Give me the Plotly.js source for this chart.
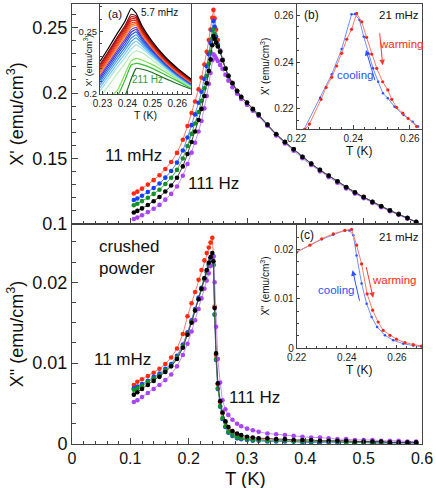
<!DOCTYPE html>
<html><head><meta charset="utf-8">
<script src="https://cdn.plot.ly/plotly-3.0.1.min.js"></script>
<style>html,body{margin:0;padding:0;background:#fff}#chart{width:436px;height:488px}</style>
</head><body><div id="chart"></div>
<script>
// ---------- main panels: shared temperature grid (K) ----------
const T = [0.106,0.112,0.12,0.13,0.14,0.15,0.16,0.17,0.18,0.19,0.198,0.205,0.211,0.217,0.222,0.227,0.231,0.2345,0.2375,0.2405,0.2425,0.2445,0.247,0.25,0.254,0.258,0.263,0.268,0.275,0.283,0.29,0.3,0.31,0.32,0.335,0.35,0.365,0.38,0.395,0.41,0.425,0.44,0.455,0.47,0.485,0.5,0.515,0.53,0.545,0.56,0.575,0.59];

// X' (emu/cm3)
const chi1_11mHz = [0.1233,0.1247,0.127,0.1301,0.1335,0.1372,0.142,0.1474,0.1543,0.1643,0.1748,0.1848,0.1935,0.2029,0.2118,0.2218,0.2315,0.2405,0.2485,0.2575,0.2635,
 0.257,0.2485,0.2405,0.2325,0.2255,0.219,0.2133,0.2078,0.2018,0.1972,0.1927,0.1879,0.1837,0.176,0.1687,0.1627,0.1572,0.1514,0.1462,0.1414,0.137,0.1327,0.1282,0.1242,0.1207,0.117,0.1137,0.1105,0.1077,0.1047,0.1017];
const chi1_blue = [0.1183,0.1195,0.1216,0.1244,0.1275,0.1309,0.1354,0.1405,0.1469,0.1561,0.166,0.1755,0.1837,0.1926,0.201,0.2108,0.2205,0.2297,0.2382,0.248,0.255,
 0.2505,0.243,0.237,0.232,0.2252,0.2187,0.2131,0.2076,0.2016,0.1971,0.1926,0.1878,0.1836,0.1759,0.1686,0.1626,0.1571,0.1513,0.1461,0.1413,0.1369,0.1326,0.1281,0.1241,0.1206,0.1169,0.1136,0.1104,0.1076,0.1046,0.1016];
const chi1_green = [0.1143,0.1155,0.1175,0.1201,0.123,0.1262,0.1305,0.1353,0.1413,0.15,0.1596,0.1688,0.1768,0.1855,0.194,0.2037,0.2132,0.2224,0.2313,0.2415,0.2485,
 0.245,0.2405,0.236,0.2315,0.2251,0.2186,0.2131,0.2075,0.2015,0.197,0.1925,0.1877,0.1835,0.1758,0.1685,0.1625,0.157,0.1512,0.146,0.1412,0.1368,0.1325,0.128,0.124,0.1205,0.1168,0.1135,0.1103,0.1075,0.1045,0.1015];
const chi1_black = [0.1088,0.11,0.1119,0.1145,0.1174,0.1206,0.1248,0.1294,0.1353,0.144,0.1535,0.1626,0.1706,0.1794,0.1879,0.1977,0.2075,0.2169,0.2257,0.2365,0.2435,
 0.2415,0.2385,0.2355,0.2315,0.225,0.2185,0.213,0.2075,0.2015,0.197,0.1925,0.1877,0.1835,0.1758,0.1685,0.1625,0.157,0.1512,0.146,0.1412,0.1368,0.1325,0.128,0.124,0.1205,0.1168,0.1135,0.1103,0.1075,0.1045,0.1015];
const chi1_111Hz = [0.1038,0.1049,0.1067,0.1091,0.1117,0.1146,0.1186,0.123,0.1286,0.1368,0.1458,0.1545,0.1621,0.1706,0.1787,0.1883,0.1978,0.207,0.2153,0.225,0.2295,
 0.2285,0.2265,0.2245,0.2215,0.2185,0.214,0.2095,0.2045,0.1995,0.1955,0.191,0.1865,0.1825,0.175,0.1675,0.1615,0.156,0.1502,0.145,0.1402,0.1358,0.1315,0.1272,0.1232,0.1197,0.116,0.1128,0.1097,0.107,0.104,0.1012];

// X'' (emu/cm3)
const chi2_11mHz = [0.0073,0.0077,0.008,0.0084,0.0088,0.0093,0.0099,0.0107,0.0118,0.0136,0.0158,0.0174,0.0188,0.0203,0.0215,0.0227,0.0236,0.0243,0.0249,0.0255,
 0.0232,0.017,0.011,0.0074,0.0052,0.0038,0.0027,0.002,0.0015,0.0011,0.0009,0.0007,0.0006,0.0006,0.0005,0.0005,0.0004,0.0004,0.0004,0.0003,0.0003,0.0003,0.0003,0.0003,0.0002,0.0002,0.0002,0.0002,0.0002,0.0002,0.0002,0.0002];
const chi2_blue = [0.0069,0.0071,0.0074,0.0078,0.0083,0.0087,0.0093,0.0099,0.0109,0.0123,0.0138,0.0153,0.0167,0.0181,0.0193,0.0205,0.0214,0.0222,0.0229,0.0233,
 0.0222,0.016,0.0104,0.0068,0.0046,0.0031,0.0021,0.0014,0.001,0.0007,0.0006,0.0005,0.0004,0.0004,0.0003,0.0003,0.0003,0.0003,0.0002,0.0002,0.0002,0.0002,0.0002,0.0002,0.0002,0.0002,0.0001,0.0001,0.0001,0.0001,0.0001,0.0001];
const chi2_green = [0.0067,0.0069,0.0072,0.0077,0.0081,0.0085,0.0091,0.0097,0.0107,0.0121,0.0136,0.0151,0.0165,0.0179,0.0191,0.0203,0.0212,0.022,0.0227,0.0231,
 0.0221,0.016,0.0105,0.0069,0.0047,0.0032,0.0022,0.0015,0.0011,0.0008,0.0007,0.0006,0.0005,0.0005,0.0004,0.0004,0.0004,0.0003,0.0003,0.0003,0.0003,0.0003,0.0003,0.0002,0.0002,0.0002,0.0002,0.0002,0.0002,0.0002,0.0002,0.0002];
const chi2_black = [0.0061,0.0064,0.0068,0.0073,0.0078,0.0083,0.0089,0.0096,0.0105,0.0119,0.0135,0.015,0.0165,0.0179,0.0192,0.0205,0.0215,0.0224,0.0231,0.0236,
 0.0226,0.0168,0.0112,0.0075,0.0053,0.0039,0.0028,0.0021,0.0016,0.0013,0.0011,0.0009,0.0008,0.0007,0.0007,0.0006,0.0006,0.0005,0.0005,0.0005,0.0004,0.0004,0.0004,0.0004,0.0003,0.0003,0.0003,0.0003,0.0002,0.0002,0.0002,0.0002];
const chi2_111Hz = [0.0052,0.0054,0.0058,0.0063,0.0068,0.0073,0.0079,0.0086,0.0096,0.011,0.0124,0.0139,0.0153,0.0167,0.018,0.0192,0.0202,0.0211,0.022,0.0228,
 0.0232,0.02,0.0145,0.0105,0.0076,0.0054,0.0043,0.0036,0.003,0.0025,0.0022,0.0019,0.0017,0.0015,0.0013,0.0012,0.0011,0.001,0.0009,0.0008,0.0008,0.0007,0.0006,0.0006,0.0005,0.0005,0.0005,0.0004,0.0004,0.0004,0.0003,0.0003];

// ---------- inset (a): X' near the peak, 5.7 mHz ... 211 Hz ----------
const Ta = [0.229,0.232,0.236,0.239,0.2415,0.2435,0.246,0.25,0.255,0.26,0.2655];
const a01_5p7mHz = [0.2261,0.2354,0.2487,0.258,0.2686,0.2646,0.254,0.242,0.23,0.2207,0.212];
const a02 = [0.2238,0.2328,0.2455,0.2545,0.2638,0.2625,0.2525,0.2408,0.2291,0.2199,0.2113];
const a03 = [0.2226,0.2316,0.2442,0.253,0.2618,0.2612,0.2515,0.2401,0.2285,0.2194,0.2109];
const a04 = [0.2213,0.2303,0.2428,0.2516,0.2601,0.26,0.2505,0.2394,0.228,0.2189,0.2105];
const a05 = [0.22,0.229,0.2414,0.2501,0.2585,0.2588,0.2495,0.2387,0.2274,0.2184,0.2101];
const a06 = [0.2187,0.2277,0.24,0.2486,0.2568,0.2575,0.2486,0.2379,0.2268,0.2179,0.2097];
const a07 = [0.2174,0.2264,0.2386,0.2471,0.2552,0.2562,0.2476,0.2372,0.2263,0.2174,0.2093];
const a08 = [0.2161,0.2251,0.2372,0.2456,0.2536,0.255,0.2467,0.2365,0.2258,0.217,0.209];
const a09 = [0.2145,0.2235,0.2354,0.2437,0.2515,0.2533,0.2456,0.2358,0.2253,0.2166,0.2087];
const a10 = [0.213,0.2218,0.2336,0.2418,0.2494,0.2516,0.2444,0.235,0.2247,0.2161,0.2083];
const a11 = [0.2113,0.22,0.2316,0.2397,0.2472,0.2497,0.2431,0.2341,0.2241,0.2156,0.2079];
const a12 = [0.2094,0.218,0.2294,0.2373,0.2447,0.2474,0.2416,0.2331,0.2234,0.2151,0.2075];
const a13 = [0.2073,0.2158,0.227,0.2348,0.242,0.2449,0.24,0.232,0.2227,0.2145,0.2071];
const a14 = [0.205,0.2134,0.2244,0.232,0.2391,0.2422,0.2382,0.2308,0.2219,0.2139,0.2067];
const a15 = [0.2025,0.2108,0.2216,0.229,0.236,0.2393,0.2362,0.2295,0.221,0.2133,0.2063];
const a16 = [0.197,0.2055,0.2165,0.2245,0.2318,0.2345,0.233,0.2272,0.2196,0.2125,0.2058];
const a17 = [0.19,0.1955,0.203,0.216,0.2265,0.2285,0.227,0.2235,0.2178,0.2118,0.2053];
const a18 = [0.185,0.191,0.1985,0.211,0.2232,0.2245,0.2235,0.2205,0.2155,0.2105,0.2047];
const a19_211Hz = [0.18,0.186,0.193,0.1985,0.212,0.2205,0.2198,0.2172,0.2125,0.2082,0.204];
const insetA = [a01_5p7mHz,a02,a03,a04,a05,a06,a07,a08,a09,a10,a11,a12,a13,a14,a15,a16,a17,a18,a19_211Hz];
const insetAColors = ['#000000','#8c0a0a','#b81010','#d81c14','#ec3018','#f04a1c','#f26a22','#f48a2c','#7a3cd8','#3434d0','#2456e2','#2c7ef0','#46a0f4','#6cc4f0','#9ce0ee','#b4f0b4','#7ee05a','#34c034','#1a6e2a'];

// ---------- inset (b): X' at 21 mHz, warming / cooling ----------
const Tb_warm = [0.2229,0.2245,0.2286,0.2304,0.2324,0.2341,0.2359,0.2377,0.2394,0.2412,0.243,0.2447,0.2465,0.2483,0.2504,0.2522,0.2536,0.2553,0.2575,0.2594,0.2624];
const b_warm  = [0.2113,0.2136,0.2241,0.2292,0.2335,0.2383,0.2437,0.2497,0.2539,0.2607,0.2571,0.2505,0.2434,0.2373,0.2316,0.2281,0.2241,0.2207,0.2182,0.216,0.2125];
const Tb_cool = [0.2226,0.2283,0.2324,0.2359,0.2394,0.2406,0.2422,0.2437,0.2453,0.247,0.2488,0.2505,0.2522,0.2546,0.2578,0.261,0.2629];
const b_cool  = [0.2113,0.2248,0.2348,0.2455,0.2603,0.2604,0.2579,0.2508,0.2437,0.2373,0.2316,0.2267,0.2246,0.221,0.2174,0.2146,0.2125];

// ---------- inset (c): X'' at 21 mHz, warming / cooling ----------
const Tc_warm = [0.22,0.2253,0.23,0.2346,0.2392,0.2419,0.2439,0.2459,0.2481,0.2503,0.2525,0.2545,0.2572,0.2598,0.2632,0.2665,0.2698];
const c_warm  = [0.0195,0.0209,0.0222,0.0232,0.0239,0.0241,0.0209,0.0171,0.011,0.0077,0.0053,0.0036,0.0026,0.0018,0.0011,0.0007,0.0004];
const Tc_cool = [0.22,0.23,0.2346,0.2392,0.241,0.2426,0.2439,0.2459,0.2479,0.2499,0.2521,0.2552,0.2585,0.2625,0.2665,0.2698];
const c_cool  = [0.0195,0.0221,0.023,0.0239,0.0239,0.0229,0.0188,0.0131,0.009,0.0063,0.0043,0.0026,0.0016,0.0009,0.0005,0.0003];

// ---------- drawing ----------
const FONT = 'Liberation Sans, Arial, Helvetica, sans-serif';
const AX = '#444444';
const traces = [];
function addMain(y, xa, ya, mcol, lcol, name) {
  traces.push({x: T, y: y, xaxis: xa, yaxis: ya, type: 'scatter', mode: 'lines+markers', name: name,
    line: {color: lcol, width: 1}, marker: {color: mcol, size: 4.6}, hoverinfo: 'skip'});
}
const mainSeries = [
  [chi1_11mHz, chi2_11mHz, '#ff2a10', '#ff7a6a', '11 mHz'],
  [chi1_blue, chi2_blue, '#1840ff', '#6a88ff', 'f2'],
  [chi1_green, chi2_green, '#12902a', '#4aa85a', 'f3'],
  [chi1_111Hz, chi2_111Hz, '#a845f5', '#c890ff', '111 Hz'],
  [chi1_black, chi2_black, '#000000', '#444444', 'f4']
];
mainSeries.forEach(s => { addMain(s[1], 'x', 'y', s[2], s[3], s[4]); });
mainSeries.forEach(s => { addMain(s[0], 'x2', 'y2', s[2], s[3], s[4]); });

for (let i = insetA.length - 1; i >= 0; i--) {
  traces.push({x: Ta, y: insetA[i], xaxis: 'x3', yaxis: 'y3', type: 'scatter', mode: 'lines',
    line: {color: insetAColors[i], width: 1.2, shape: 'spline', smoothing: 0.4}, hoverinfo: 'skip'});
}
function addInset(x, y, xa, ya, lcol, mcol, ms) {
  traces.push({x: x, y: y, xaxis: xa, yaxis: ya, type: 'scatter', mode: 'lines+markers',
    line: {color: lcol, width: 1}, marker: {color: mcol, size: ms}, hoverinfo: 'skip'});
}
addInset(Tb_cool, b_cool, 'x4', 'y4', '#7090ff', '#2a50ff', 2.5);
addInset(Tb_warm, b_warm, 'x4', 'y4', '#ff7a6a', '#f02818', 3.2);
addInset(Tc_cool, c_cool, 'x5', 'y5', '#7090ff', '#2a50ff', 2.5);
addInset(Tc_warm, c_warm, 'x5', 'y5', '#ff7a6a', '#f02818', 3.2);

function axis(extra) {
  return Object.assign({showgrid: false, zeroline: false, showline: true, mirror: true, linecolor: AX, linewidth: 1,
    ticks: 'inside', tickcolor: AX, ticklen: 6, tickwidth: 1, color: '#111'}, extra);
}
const ann = [];
function txt(text, x, y, size, color, xref, yref, extra) {
  ann.push(Object.assign({text: text, x: x, y: y, xref: xref || 'paper', yref: yref || 'paper', showarrow: false,
    xanchor: 'center', yanchor: 'middle',
    font: {family: FONT, size: size, color: color || '#111'}}, extra || {}));
}
function arrow(x0, y0, x1, y1, xa, ya, col) {
  ann.push({text: '', x: x1, y: y1, ax: x0, ay: y0, xref: xa, yref: ya, axref: xa, ayref: ya,
    showarrow: true, arrowhead: 2, arrowsize: 1.1, arrowwidth: 1, arrowcolor: col, standoff: 0, startstandoff: 0});
}
// main x-axis title (placed as text below the tick labels)
txt('T (K)', 0.497, -0.0785, 18.5, '#111', 'paper', 'paper', {yanchor: 'middle'});
// main panel labels
txt('11 mHz', 0.106, 0.152, 17, '#111', 'x2', 'y2');
txt('111 Hz', 0.242, 0.1306, 17, '#111', 'x2', 'y2');
txt('crushed<br>powder', 0.043, 0.0231, 17, '#111', 'x', 'y', {xanchor: 'left', align: 'left'});
txt('11 mHz', 0.0858, 0.0104, 17, '#111', 'x', 'y');
txt('111 Hz', 0.312, 0.0057, 17, '#111', 'x', 'y');
// inset (a)
txt('(a)', 0.1229, 0.9773, 11.5);
txt('5.7 mHz', 0.2514, 0.9818, 10);
txt('211 Hz', 0.2143, 0.8295, 10, '#3a9a3a');
txt("X' (emu/cm<sup>3</sup>)", 0.046, 0.872, 9, '#111', 'paper', 'paper', {textangle: -90});
// inset (b)
txt('(b)', 0.6857, 0.975, 12);
txt('21 mHz', 0.9343, 0.975, 11.5);
txt('warming', 0.94, 0.9091, 11.5, '#ff2a10');
txt('cooling', 0.8086, 0.8386, 11.5, '#2a50ff');
arrow(0.2493, 0.2529, 0.2504, 0.2386, 'x4', 'y4', '#ff3a2a');
arrow(0.2478, 0.2316, 0.2445, 0.2451, 'x4', 'y4', '#2a50ff');
// inset (c)
txt('(c)', 0.6714, 0.475, 12);
txt('21 mHz', 0.9343, 0.4705, 11.5);
txt('warming', 0.9214, 0.3727, 11.5, '#ff2a10');
txt('cooling', 0.7543, 0.35, 11.5, '#2a50ff');
arrow(0.2476, 0.0168, 0.2505, 0.0102, 'x5', 'y5', '#ff3a2a');
arrow(0.2452, 0.0093, 0.2423, 0.0158, 'x5', 'y5', '#2a50ff');

const small = {family: FONT, size: 10, color: '#222'};
const layout = {
  width: 436, height: 488, margin: {l: 72, r: 14, t: 4, b: 44},
  paper_bgcolor: '#fff', plot_bgcolor: 'rgba(0,0,0,0)', showlegend: false,
  font: {family: FONT, color: '#111'},
  xaxis: axis({domain: [0, 1], anchor: 'y', range: [0, 0.6], tick0: 0, dtick: 0.1,
    minor: {dtick: 0.02, ticks: 'inside', ticklen: 3.5, tickcolor: AX},
    tickfont: {family: FONT, size: 16}}),
  yaxis: axis({domain: [0, 0.5], anchor: 'x', range: [0, 0.0272], tick0: 0, dtick: 0.01,
    minor: {dtick: 0.0025, ticks: 'inside', ticklen: 3.5, tickcolor: AX},
    tickfont: {family: FONT, size: 18}, title: {text: 'X" (emu/cm<sup>3</sup>)', font: {family: FONT, size: 18}, standoff: 4}}),
  xaxis2: axis({domain: [0, 1], anchor: 'y2', range: [0, 0.6], tick0: 0, dtick: 0.1, showticklabels: false,
    minor: {dtick: 0.02, ticks: 'inside', ticklen: 3.5, tickcolor: AX}}),
  yaxis2: axis({domain: [0.5, 1], anchor: 'x2', range: [0.1, 0.268], tick0: 0.1, dtick: 0.05,
    minor: {dtick: 0.01, ticks: 'inside', ticklen: 3.5, tickcolor: AX},
    tickfont: {family: FONT, size: 18}, title: {text: "X' (emu/cm<sup>3</sup>)", font: {family: FONT, size: 18}, standoff: 4}}),
  // inset (a)
  xaxis3: axis({domain: [0.08, 0.34], anchor: 'y3', range: [0.229, 0.2655], tick0: 0.23, dtick: 0.01, ticklen: 3,
    minor: {dtick: 0.002, ticks: 'inside', ticklen: 2, tickcolor: AX},
    tickfont: small, title: {text: 'T (K)', font: {family: FONT, size: 10.5}, standoff: 1}}),
  yaxis3: axis({domain: [0.7955, 1], anchor: 'x3', range: [0.2, 0.272], tick0: 0.2, dtick: 0.05, ticklen: 3,
    minor: {dtick: 0.01, ticks: 'inside', ticklen: 2, tickcolor: AX},
    tickfont: {family: FONT, size: 9.5, color: '#222'}}),
  // inset (b)
  xaxis4: axis({domain: [0.642, 1], anchor: 'y4', range: [0.22, 0.2643], tick0: 0.22, dtick: 0.02, ticklen: 3.5,
    minor: {dtick: 0.004, ticks: 'inside', ticklen: 2, tickcolor: AX},
    tickfont: small, title: {text: 'T (K)', font: {family: FONT, size: 12}, standoff: 1}}),
  yaxis4: axis({domain: [0.716, 1], anchor: 'x4', range: [0.2115, 0.2647], tick0: 0.22, dtick: 0.02, ticklen: 3.5,
    minor: {dtick: 0.005, ticks: 'inside', ticklen: 2, tickcolor: AX},
    tickfont: small, title: {text: "X' (emu/cm<sup>3</sup>)", font: {family: FONT, size: 10}, standoff: 2}}),
  // inset (c)
  xaxis5: axis({domain: [0.642, 1], anchor: 'y5', range: [0.22, 0.27], tick0: 0.22, dtick: 0.02, ticklen: 3.5,
    minor: {dtick: 0.004, ticks: 'inside', ticklen: 2, tickcolor: AX},
    tickfont: small, title: {text: 'T (K)', font: {family: FONT, size: 12}, standoff: 1}}),
  yaxis5: axis({domain: [0.218, 0.5], anchor: 'x5', range: [0, 0.0252], tick0: 0, dtick: 0.01, ticklen: 3.5,
    minor: {dtick: 0.0025, ticks: 'inside', ticklen: 2, tickcolor: AX},
    tickfont: small, title: {text: 'X" (emu/cm<sup>3</sup>)', font: {family: FONT, size: 10}, standoff: 2}}),
  annotations: ann
};
Plotly.newPlot('chart', traces, layout, {staticPlot: true, displayModeBar: false});
</script>
</body></html>
